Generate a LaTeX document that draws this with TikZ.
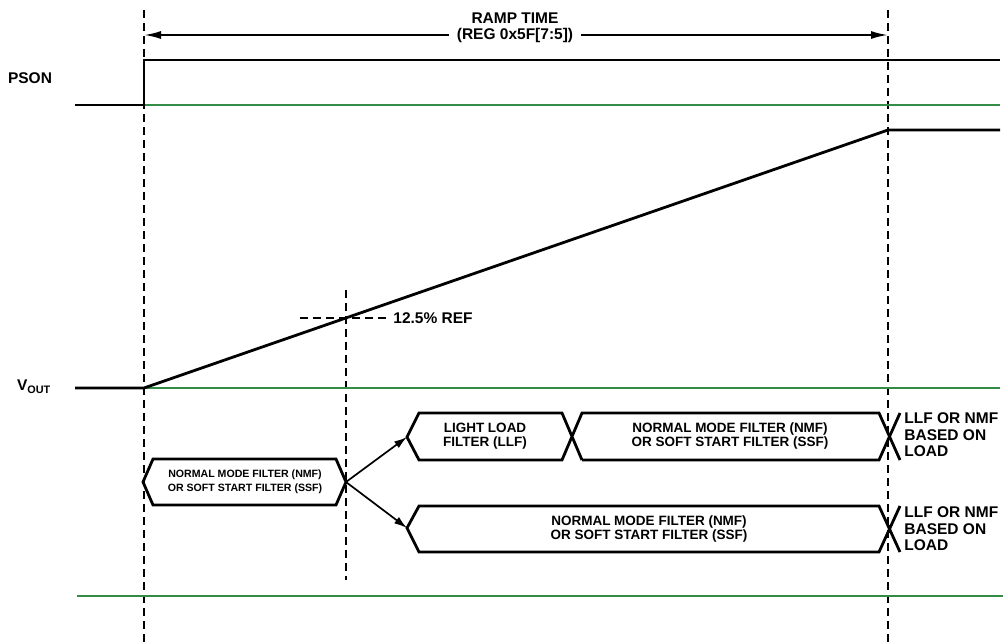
\documentclass[tikz,border=0pt]{standalone}
\usepackage{fontspec}
\setmainfont{Liberation Sans}
\usetikzlibrary{arrows.meta}
\definecolor{refgreen}{RGB}{52,140,70}

\begin{document}
\begin{tikzpicture}[x=1pt,y=-1pt,line width=2.8pt,>={Latex[length=13pt,width=8pt]},
  line join=miter,font=\fontsize{15.5}{16.5}\selectfont\bfseries,
  guide/.style={line width=1.1pt,dash pattern=on 8pt off 5pt},
  base/.style={line width=1.1pt,draw=refgreen},
  link/.style={line width=1.7pt,->},
  busname/.style={font=\fontsize{13.5}{14.5}\selectfont\bfseries,align=center},
  loadname/.style={anchor=west,align=left,inner sep=1pt}]
  \useasboundingbox (0,0) rectangle (1007,642);
  \draw[guide] (144,10)--(144,642);
  \draw[guide] (888,10)--(888,642);
  \draw[guide] (346,290)--(346,580);
  \draw[base] (144,105)--(1000,105);
  \draw[base] (144,388)--(1000,388);
  \draw[base] (77,596)--(1003,596);
  % signals
  \node (pson) at (30,78) {PSON};
  \node (vout) at (34,387) {V\textsubscript{OUT}};
  \draw (75,105)--(144,105)--(144,60)--(1000,60);
  \draw (75,388)--(144,388)--(888,130)--(1000,130);
  % ramp time
  \node[align=center,inner xsep=6pt] (ramp) at (515,28) {RAMP TIME\\(REG 0x5F[7:5])};
  \coordinate (t0) at (144,35);
  \coordinate (t1) at (888,35);
  \draw[line width=2pt,-{Latex[length=17pt,width=8pt]}] (ramp.west|-t0)--(t0);
  \draw[line width=2pt,-{Latex[length=17pt,width=8pt]}] (ramp.east|-t1)--(t1);
  \coordinate (r0) at (300,318);
  \node[anchor=west,inner sep=2pt] (ref) at (390,318) {12.5\% REF};
  \draw[guide] (r0)--(ref.west);
  % filter states
  \draw (143,482)--(153,459)--(336,459)--(346,482)--(336,505)--(153,505)--cycle;
  \node[busname,font=\fontsize{10.6}{14}\selectfont\bfseries] (nmf) at (245,482)
    {NORMAL MODE FILTER (NMF)\\OR SOFT START FILTER (SSF)};
  \draw (582,460)--(562,413)--(419,413)--(407,437)--(419,460)--(562,460)--(582,413)
    --(879,413)--(900,460);
  \draw (582,460)--(879,460)--(900,413);
  \node[busname] (llf) at (485,436) {LIGHT LOAD\\FILTER (LLF)};
  \node[busname] (nmfa) at (730,436) {NORMAL MODE FILTER (NMF)\\OR SOFT START FILTER (SSF)};
  \draw (900,552)--(879,506)--(419,506)--(407,528)--(419,552)--(879,552)--(900,506);
  \node[busname] (nmfb) at (649,529) {NORMAL MODE FILTER (NMF)\\OR SOFT START FILTER (SSF)};
  \coordinate (n1) at (346,482);
  \coordinate (llfL) at (407,437);
  \coordinate (nmfL) at (407,528);
  \draw[link] (n1)--(llfL);
  \draw[link] (n1)--(nmfL);
  \node[loadname] (loada) at (902,435) {LLF OR NMF\\BASED ON\\LOAD};
  \node[loadname] (loadb) at (902,529) {LLF OR NMF\\BASED ON\\LOAD};
\end{tikzpicture}
\end{document}
